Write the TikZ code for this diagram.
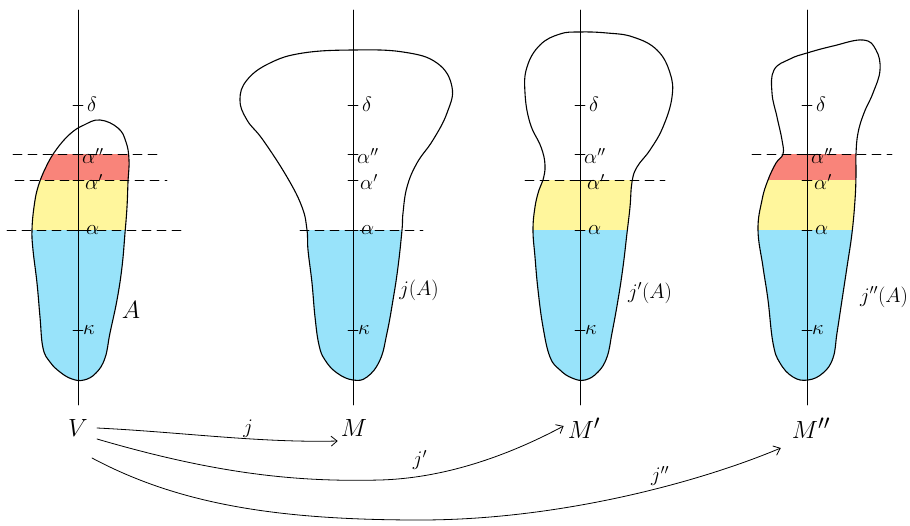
\documentclass[tikz,border=0pt]{standalone}
\usetikzlibrary{arrows.meta}
\definecolor{redf}{RGB}{249,132,122}
\definecolor{yelf}{RGB}{255,246,156}
\definecolor{bluf}{RGB}{152,227,250}
\begin{document}
\begin{tikzpicture}[x=1pt,y=-1pt,line cap=round,line join=round,
  outl/.style={line width=1.1pt,black},
  axisl/.style={line width=0.9pt,black},
  dashline/.style={line width=0.9pt,black,dash pattern=on 9pt off 6pt},
  ticklbl/.style={font=\fontsize{20.74}{24}\selectfont,inner sep=0pt,anchor=west},
  biglbl/.style={font=\fontsize{24.88}{30}\selectfont,inner sep=1pt},
  imglbl/.style={font=\fontsize{20.74}{25}\selectfont,inner sep=1pt},
  arr/.style={line width=0.8pt,black,-{Straight Barb[length=6pt,width=10pt]}}]
\useasboundingbox (0,0) rectangle (910,525);

\def\blobA{plot[smooth cycle,tension=0.7] coordinates {(100,120) (118,128) (126,142) (129,160) (128,182) (127,207) (125,233) (122,267) (117,300) (110,333) (105,358) (96,373) (84,380) (72,379) (60,372) (50,362) (43,348) (40,317) (37,283) (33,250) (32,230) (34,207) (38,187) (46,167) (56,150) (70,134) (84,125)}}
\def\blobB{plot[smooth cycle,tension=0.7] coordinates {(307,230) (302,207) (287,177) (263,140) (247,120) (240,100) (247,80) (270,63) (303,53) (353,50) (403,52) (437,63) (452,87) (447,113) (433,140) (417,163) (407,187) (403,213) (402,230) (398,267) (393,300) (387,333) (380,360) (367,377) (353,380) (337,373) (325,360) (319,345) (315,317) (312,283) (308,250)}}
\def\blobC{plot[smooth cycle,tension=0.7] coordinates {(543,180) (545,165) (541,147) (530,123) (525,93) (527,67) (540,45) (560,34) (580,32) (607,33) (633,37) (657,50) (670,73) (672,97) (663,127) (650,150) (637,167) (632,182) (630,207) (627,233) (623,267) (618,300) (612,333) (607,357) (598,372) (585,380) (572,378) (560,370) (550,357) (543,327) (538,290) (535,257) (533,230) (535,207) (539,190)}}
\def\blobD{plot[smooth cycle,tension=0.7] coordinates {(783,154) (782,140) (777,117) (772,93) (774,70) (790,59) (807,53) (833,46) (863,40) (876,50) (880,70) (873,93) (864,113) (858,133) (856,154) (856,175) (855,200) (852,233) (847,267) (842,300) (837,333) (833,358) (823,373) (808,380) (793,377) (780,363) (773,343) (768,300) (763,267) (758,230) (762,200) (768,180) (776,163)}}

% fills
\begin{scope}
  \clip \blobA;
  \fill[redf] (0,154) rectangle (200,180);
  \fill[yelf] (0,180) rectangle (200,230);
  \fill[bluf] (0,230) rectangle (200,400);
\end{scope}
\begin{scope}
  \clip \blobB;
  \fill[bluf] (220,230) rectangle (470,400);
\end{scope}
\begin{scope}
  \clip \blobC;
  \fill[yelf] (500,180) rectangle (700,230);
  \fill[bluf] (500,230) rectangle (700,400);
\end{scope}
\begin{scope}
  \clip \blobD;
  \fill[redf] (740,154) rectangle (910,180);
  \fill[yelf] (740,180) rectangle (910,230);
  \fill[bluf] (740,230) rectangle (910,400);
\end{scope}

% outlines
\draw[outl] \blobA;
\draw[outl] \blobB;
\draw[outl] \blobC;
\draw[outl] \blobD;

% dashed levels
\draw[dashline] (13,154) -- (157,154);
\draw[dashline] (15,180) -- (167,180);
\draw[dashline] (7,230) -- (182,230);
\draw[dashline] (300,230) -- (423,230);
\draw[dashline] (525,180) -- (665,180);
\draw[dashline] (752,154) -- (892,154);

% axes with ticks
\foreach \ax in {78,353,580,807}{
  \draw[axisl] (\ax,10) -- (\ax,405);
  \foreach \yy in {105,154,180,230,330}
    \draw[axisl] (\ax-5,\yy) -- (\ax+5,\yy);
  \node[ticklbl] at (\ax+9,104) {$\delta$};
  \node[ticklbl] at (\ax+4,156) {$\alpha''$};
  \node[ticklbl] at (\ax+7,182) {$\alpha'$};
  \node[ticklbl] at (\ax+8,230) {$\alpha$};
  \node[ticklbl] at (\ax+5,330) {$\kappa$};
}

% image labels
\node[biglbl] (lA) at (131,310) {$A$};
\node[imglbl] (lB) at (419,290) {$j(A)$};
\node[imglbl] (lC) at (650,293) {$j'(A)$};
\node[imglbl] (lD) at (884,297) {$j''(A)$};

% model labels
\node[biglbl] (V) at (78,428) {$V$};
\node[biglbl] (M) at (354,428) {$M$};
\node[biglbl] (Mp) at (584,428) {$M'$};
\node[biglbl] (Mpp) at (811,428) {$M''$};

% arrows
\draw[arr] ([shift={(8,0)}]V.east) .. controls (180,432) and (260,443) .. ([shift={(-2,13)}]M.west)
  node[pos=0.62,above=0pt,imglbl] {$j$};
\draw[arr] ([shift={(8,11)}]V.east) .. controls (220,475) and (300,482) .. (380,480)
  .. controls (450,478) and (515,452) .. ([shift={(-3,-2)}]Mp.west);
\node[imglbl] at (420,460) {$j'$};
\draw[arr] ([shift={(3,30)}]V.east) .. controls (180,505) and (280,520) .. (420,520)
  .. controls (560,520) and (700,482) .. ([shift={(-10,20)}]Mpp.west);
\node[imglbl] at (660,476) {$j''$};
\end{tikzpicture}
\end{document}
